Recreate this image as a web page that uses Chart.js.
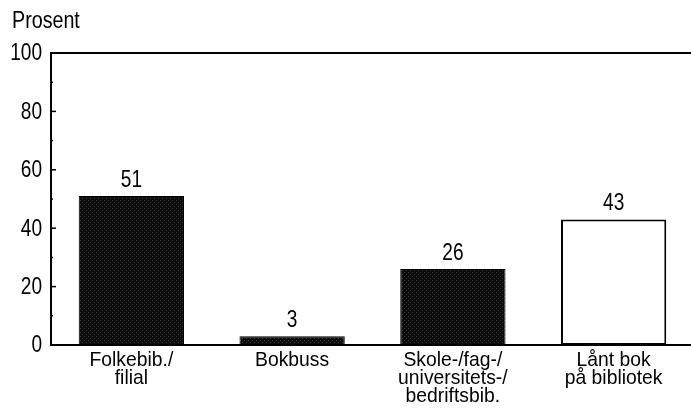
<!DOCTYPE html>
<html>
<head>
<meta charset="utf-8">
<script src="https://cdn.jsdelivr.net/npm/chart.js@4"></script>
<style>
  html, body { margin:0; padding:0; background:#fff; overflow:hidden; }
  #wrap { position:relative; width:694px; height:419px; }
  #unit { position:absolute; left:12px; top:6px; font:24px 'Liberation Sans', Arial, sans-serif; color:#000;
          transform:scaleX(0.82); transform-origin:left top; }
</style>
</head>
<body>
<div id="wrap">
  <div id="unit">Prosent</div>
  <canvas id="chart" width="694" height="419"></canvas>
</div>
<script>
// Data
const categories = [['Folkebib./', 'filial'], ['Bokbuss'], ['Skole-/fag-/', 'universitets-/', 'bedriftsbib.'], ['Lånt bok', 'på bibliotek']];
const values = [51, 3, 26, 43];
const yTicks = [0, 20, 40, 60, 80, 100];

const FONT = "'Liberation Sans', Arial, sans-serif";
const SQUEEZE = 0.83;   // the print uses a condensed face

// dark stippled fill like the print
function stipple(){
  const c = document.createElement('canvas');
  c.width = 4; c.height = 4;
  const g = c.getContext('2d');
  g.fillStyle = '#0c0c0c'; g.fillRect(0,0,4,4);
  g.fillStyle = '#3a3a3a'; g.fillRect(0,0,1,1); g.fillRect(2,2,1,1);
  return g.createPattern(c, 'repeat');
}
const dark = stipple();

function narrowText(ctx, text, x, y, sx){
  ctx.save();
  ctx.translate(x, y);
  ctx.scale(sx || SQUEEZE, 1);
  ctx.fillText(text, 0, 0);
  ctx.restore();
}

// frame line on top, inward ticks, and all the condensed labels
const frame = {
  id: 'frame',
  afterDraw(chart){
    const { ctx, chartArea, scales } = chart;
    ctx.save();
    ctx.strokeStyle = '#000';
    ctx.lineWidth = 2;
    ctx.beginPath();
    ctx.moveTo(chartArea.left - 1, chartArea.top);
    ctx.lineTo(chart.width, chartArea.top);
    ctx.stroke();
    ctx.lineWidth = 1.5;
    for (let v = 10; v < 100; v += 10){
      const y = scales.y.getPixelForValue(v);
      const len = v % 20 === 0 ? 5 : 2;
      ctx.beginPath();
      ctx.moveTo(chartArea.left, y);
      ctx.lineTo(chartArea.left + len, y);
      ctx.stroke();
    }

    ctx.fillStyle = '#000';
    // y tick labels
    ctx.font = '23px ' + FONT;
    ctx.textAlign = 'right';
    ctx.textBaseline = 'middle';
    yTicks.forEach(v => narrowText(ctx, String(v), chartArea.left - 9, scales.y.getPixelForValue(v) + 1));

    // category labels
    ctx.font = '21px ' + FONT;
    ctx.textAlign = 'center';
    ctx.textBaseline = 'alphabetic';
    categories.forEach((lines, i) => {
      const x = scales.x.getPixelForValue(i);
      lines.forEach((t, j) => narrowText(ctx, t, x, chartArea.bottom + 21 + j * 18, 0.92));
    });
    ctx.restore();
  }
};

const valueLabels = {
  id: 'valueLabels',
  afterDatasetsDraw(chart){
    const { ctx } = chart;
    const meta = chart.getDatasetMeta(0);
    ctx.save();
    ctx.fillStyle = '#000';
    ctx.font = '23px ' + FONT;
    ctx.textAlign = 'center';
    ctx.textBaseline = 'alphabetic';
    meta.data.forEach((bar, i) => narrowText(ctx, String(values[i]), bar.x, bar.y - 9));
    ctx.restore();
  }
};

new Chart(document.getElementById('chart'), {
  type: 'bar',
  data: {
    labels: categories,
    datasets: [{
      data: values,
      backgroundColor: [dark, dark, dark, '#fff'],
      borderColor: '#000',
      borderWidth: [1, 1, 1, 2],
      borderSkipped: false,
      categoryPercentage: 1,
      barPercentage: 0.655,
    }]
  },
  options: {
    responsive: false,
    animation: false,
    layout: { padding: { top: 53, left: 0, right: 0, bottom: 0 } },
    plugins: { legend: { display: false }, tooltip: { enabled: false } },
    scales: {
      x: {
        grid: { display: false, drawTicks: false },
        border: { color: '#000', width: 2 },
        ticks: { display: false },
        afterFit(s){ s.height = 74; },
      },
      y: {
        min: 0, max: 100,
        afterBuildTicks(s){ s.ticks = yTicks.map(v => ({ value: v })); },
        grid: { display: false, drawTicks: false },
        border: { color: '#000', width: 2 },
        ticks: { display: false },
        afterFit(s){ s.width = 51; },
      }
    }
  },
  plugins: [frame, valueLabels]
});
</script>
</body>
</html>
